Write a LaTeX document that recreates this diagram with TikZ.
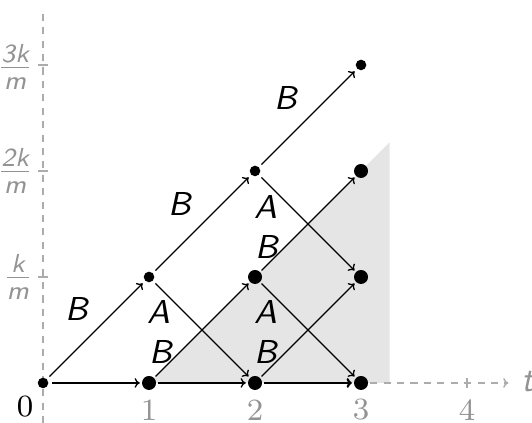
\documentclass[tikz,border=0pt]{standalone}
\usepackage{amsmath}
\usetikzlibrary{arrows.meta}
\begin{document}
\begin{tikzpicture}[x=1cm,y=1cm,
 dotS/.style={circle,fill=black,inner sep=0pt,minimum size=0.1cm,outer sep=1.0pt},
 dotL/.style={circle,fill=black,inner sep=0pt,minimum size=0.132cm,outer sep=0.6pt},
 edge/.style={-{To[length=1.4pt,width=2.6pt]},line width=0.35pt},
 lbl/.style={font=\fontsize{8.9}{10}\selectfont\sffamily\itshape,inner sep=0pt},
 axis/.style={draw=gray!65,line width=0.4pt,dash pattern=on 1.9pt off 1.7pt},
 tickline/.style={draw=gray!65,line width=0.4pt},
 num/.style={font=\fontsize{8.3}{10}\selectfont,text=gray!85,inner sep=0pt},
 ylab/.style={text=gray!85,anchor=east,inner sep=0pt,font=\fontsize{10}{12}\selectfont}]
\useasboundingbox (-0.406,-0.377) rectangle (4.613,3.613);
% shaded region
\fill[gray!20] (1,0) -- (3.27,2.27) -- (3.27,0) -- cycle;
% axes
\coordinate (ybot) at (0,-0.38);
\coordinate (ytop) at (0,3.54);
\draw[axis] (ybot) -- (ytop);
\foreach \k in {1,2,3} {
  \coordinate (yl\k) at (-0.047,\k);
  \coordinate (yr\k) at (0.047,\k);
  \draw[tickline] (yl\k) -- (yr\k);
}
\coordinate (x4a) at (4,-0.047);
\coordinate (x4b) at (4,0.047);
\draw[tickline] (x4a) -- (x4b);
% labels on axes
\node[font=\fontsize{8.3}{10}\selectfont,inner sep=0pt] (zero) at (-0.17,-0.225) {0};
\node[num] (n1) at (1,-0.255) {1};
\node[num] (n2) at (2,-0.255) {2};
\node[num] (n3) at (3,-0.255) {3};
\node[num] (n4) at (4,-0.255) {4};
\node[ylab] (f1) at (-0.085,1.0) {$\frac{\textsf{\itshape k}}{\textsf{\itshape m}}$};
\node[ylab] (f2) at (-0.085,2.0) {$\frac{\textsf{\itshape 2k}}{\textsf{\itshape m}}$};
\node[ylab] (f3) at (-0.085,2.98) {$\frac{\textsf{\itshape 3k}}{\textsf{\itshape m}}$};
\node[font=\fontsize{9.5}{10}\selectfont\sffamily\itshape,text=gray!85,inner sep=0pt] (tl) at (4.57,0.01) {t};
% dots
\node[dotS] (d00) at (0,0) {};
\node[dotL] (d10) at (1,0) {};
\node[dotL] (d20) at (2,0) {};
\node[dotL] (d30) at (3,0) {};
\node[dotS] (d11) at (1,1) {};
\node[dotL] (d21) at (2,1) {};
\node[dotL] (d31) at (3,1) {};
\node[dotS] (d22) at (2,2) {};
\node[dotL] (d32) at (3,2) {};
\node[dotS] (d33) at (3,3) {};
% x axis continuation
\coordinate (xend) at (4.39,0);
\draw[axis,-{To[length=1.4pt,width=2.6pt]}] (d30.east) -- (xend);
% edges
\draw[edge] (d00) -- (d10);
\draw[edge] (d10) -- (d20);
\draw[edge,line width=0.6pt] (d20) -- (d30);
\draw[edge] (d00) -- (d11);
\draw[edge] (d11) -- (d22);
\draw[edge] (d22) -- (d33);
\draw[edge] (d10) -- (d21);
\draw[edge] (d21) -- (d32);
\draw[edge] (d20) -- (d31);
\draw[edge] (d11) -- (d20);
\draw[edge] (d21) -- (d30);
\draw[edge] (d22) -- (d31);
% edge labels
\node[lbl] (b1) at (0.32,0.70) {B};
\node[lbl] (b2) at (1.29,1.69) {B};
\node[lbl] (b3) at (2.29,2.69) {B};
\node[lbl] (b4) at (1.11,0.29) {B};
\node[lbl] (b5) at (2.10,0.29) {B};
\node[lbl] (b6) at (2.11,1.28) {B};
\node[lbl] (a1) at (1.09,0.67) {A};
\node[lbl] (a2) at (2.10,0.67) {A};
\node[lbl] (a3) at (2.10,1.66) {A};
\end{tikzpicture}
\end{document}
